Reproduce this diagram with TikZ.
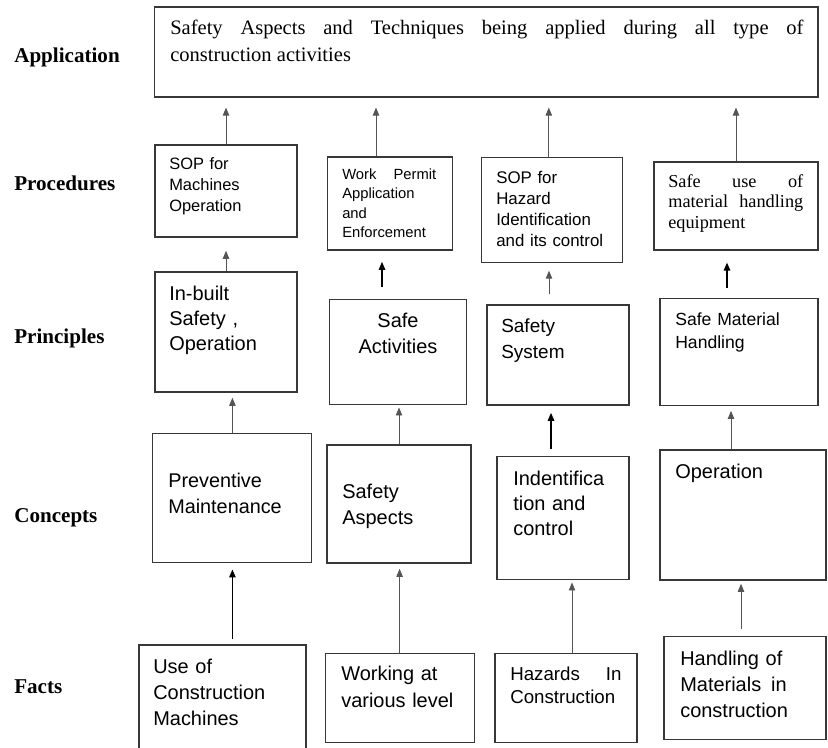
\documentclass[tikz,border=0pt]{standalone}
\usepackage{fontspec}
\setmainfont{Liberation Serif}
\setsansfont{Liberation Sans}
\usetikzlibrary{arrows.meta}
\hyphenpenalty=10000
\exhyphenpenalty=10000
\definecolor{BoxGray}{RGB}{55, 55, 55}
\definecolor{ArrowGray}{RGB}{85, 85, 85}

\begin{document}
\begin{tikzpicture}[
    cell/.style={draw=BoxGray, line width=0.8pt, inner sep=0pt},
    txt/.style={anchor=base west, inner sep=0pt, align=left, text width=3.1cm, font=\sffamily\fontsize{14.2}{18.5}\selectfont},
    lvl/.style={anchor=base west, inner sep=0pt, font=\fontsize{15}{18}\selectfont\bfseries},
    arr/.style={draw=ArrowGray, line width=0.6pt, -{Triangle[length=2mm,width=1.6mm]}},
    arrbold/.style={arr, draw=black, line width=1.1pt}
]
    \useasboundingbox (0,0) rectangle (20.7,-18.675);

    % Niveles
    \node[lvl] (lvlApp) at (0.35,-1.55) {Application};
    \node[lvl] (lvlProc) at (0.35,-4.75) {Procedures};
    \node[lvl] (lvlPrinc) at (0.35,-8.575) {Principles};
    \node[lvl] (lvlConc) at (0.35,-13.05) {Concepts};
    \node[lvl] (lvlFact) at (0.35,-17.325) {Facts};

    % Aplicacion
    \node[cell, minimum width=16.58cm, minimum height=2.25cm] (app) at (12.16,-1.30) {};
    \node[txt, font=\fontsize{14.6}{19.2}\selectfont, text width=15.83cm, align=justify] (appT) at (4.25,-0.875) {Safety Aspects and Techniques being applied during all type of\linebreak construction activities};

    % Procedimientos
    \node[cell, minimum width=3.55cm, minimum height=2.30cm] (proc1) at (5.65,-4.775) {};
    \node[txt, font=\sffamily\fontsize{11.7}{15}\selectfont] (procT1) at (4.225,-4.225) {SOP for\\Machines\\Operation};
    \node[cell, minimum width=3.125cm, minimum height=2.325cm] (proc2) at (9.74,-5.0875) {};
    \node[txt, font=\sffamily\fontsize{10.5}{13.9}\selectfont, text width=2.35cm, align=justify] (procT2) at (8.55,-4.475) {Work Permit\linebreak Application\\and\\Enforcement};
    \node[cell, minimum width=3.525cm, minimum height=2.625cm] (proc3) at (13.81,-5.26) {};
    \node[txt, font=\sffamily\fontsize{12}{15}\selectfont] (procT3) at (12.40,-4.575) {SOP for\\Hazard\\Identification\\and its control};
    \node[cell, minimum width=4.10cm, minimum height=2.20cm] (proc4) at (18.40,-5.15) {};
    \node[txt, font=\fontsize{13}{14.6}\selectfont, text width=3.375cm, align=justify] (procT4) at (16.70,-4.675) {Safe use of\linebreak material handling\linebreak equipment};

    % Principios
    \node[cell, minimum width=3.55cm, minimum height=3.00cm] (princ1) at (5.65,-8.30) {};
    \node[txt, font=\sffamily\fontsize{14.2}{17.8}\selectfont] (princT1) at (4.225,-7.50) {In-built\\Safety ,\\Operation};
    \node[cell, minimum width=3.425cm, minimum height=2.625cm] (princ2) at (9.94,-8.81) {};
    \node[txt, anchor=base, align=center, font=\sffamily\fontsize{14.2}{19.2}\selectfont] (princT2) at (9.95,-8.175) {Safe\\Activities};
    \node[cell, minimum width=3.55cm, minimum height=2.50cm] (princ3) at (13.95,-8.875) {};
    \node[txt, font=\sffamily\fontsize{13.5}{19.2}\selectfont] (princT3) at (12.525,-8.30) {Safety\\System};
    \node[cell, minimum width=3.95cm, minimum height=2.675cm] (princ4) at (18.475,-8.79) {};
    \node[txt, font=\sffamily\fontsize{12.5}{17}\selectfont] (princT4) at (16.875,-8.125) {Safe Material\\Handling};

    % Conceptos
    \node[cell, minimum width=3.975cm, minimum height=3.225cm] (conc1) at (5.81,-12.46) {};
    \node[txt, font=\sffamily\fontsize{14.1}{19.2}\selectfont] (concT1) at (4.20,-12.175) {Preventive\\Maintenance};
    \node[cell, minimum width=3.60cm, minimum height=2.95cm] (conc2) at (9.975,-12.60) {};
    \node[txt] (concT2) at (8.55,-12.45) {Safety\\Aspects};
    \node[cell, minimum width=3.30cm, minimum height=3.075cm] (conc3) at (14.075,-12.96) {};
    \node[txt, font=\sffamily\fontsize{14.2}{18.1}\selectfont] (concT3) at (12.825,-12.125) {Indentifica\\tion and\\control};
    \node[cell, minimum width=4.15cm, minimum height=3.25cm] (conc4) at (18.575,-12.875) {};
    \node[txt] (concT4) at (16.875,-11.95) {Operation};

    % Hechos
    \node[cell, minimum width=4.175cm, minimum height=2.675cm] (fact1) at (5.5625,-17.4625) {};
    \node[txt] (factT1) at (3.825,-16.825) {Use of\\Construction\\Machines};
    \node[cell, minimum width=3.725cm, minimum height=2.225cm] (fact2) at (9.99,-17.44) {};
    \node[txt, font=\sffamily\fontsize{14.2}{19.2}\selectfont] (factT2) at (8.525,-17.00) {Working at\\various level};
    \node[cell, minimum width=3.55cm, minimum height=2.225cm] (fact3) at (14.15,-17.44) {};
    \node[txt, font=\sffamily\fontsize{13.3}{16.4}\selectfont, text width=2.78cm, align=justify] (factT3) at (12.75,-17.00) {Hazards In\linebreak Construction};
    \node[cell, minimum width=4.05cm, minimum height=2.575cm] (fact4) at (18.625,-17.21) {};
    \node[txt] (factT4) at (17.00,-16.625) {Handling of\\Materials\enskip in\\construction};

    % Procedimientos -> aplicacion
    \draw[arr, shorten >=0.25cm] (proc1.north) -- (proc1.north |- app.south);
    \draw[arr, shorten >=0.25cm] ([xshift=-0.34cm]proc2.north) -- ([xshift=-0.34cm]proc2.north |- app.south);
    \draw[arr, shorten >=0.25cm] ([xshift=-0.09cm]proc3.north) -- ([xshift=-0.09cm]proc3.north |- app.south);
    \draw[arr, shorten >=0.25cm] (proc4.north) -- (proc4.north |- app.south);

    % Principios -> procedimientos
    \draw[arr, shorten >=0.33cm] (princ1.north) -- (princ1.north |- proc1.south);
    \draw[arrbold, line width=0.8pt, shorten <=0.3cm, shorten >=0.28cm] ([xshift=-0.39cm]princ2.north) -- ([xshift=-0.39cm]princ2.north |- proc2.south);
    \draw[arr, shorten <=0.25cm, shorten >=0.18cm] ([xshift=-0.225cm]princ3.north) -- ([xshift=-0.225cm]princ3.north |- proc3.south);
    \draw[arrbold, shorten <=0.25cm, shorten >=0.3cm] ([xshift=-0.3cm]princ4.north) -- ([xshift=-0.3cm]princ4.north |- proc4.south);

    % Conceptos -> principios
    \draw[arr, shorten >=0.13cm] (conc1.north) -- (conc1.north |- princ1.south);
    \draw[arr, shorten >=0.05cm] (conc2.north) -- (conc2.north |- princ2.south);
    \draw[arrbold, shorten <=0.18cm, shorten >=0.18cm] ([xshift=-0.3cm]conc3.north) -- ([xshift=-0.3cm]conc3.north |- princ3.south);
    \draw[arr, shorten >=0.13cm] ([xshift=-0.3cm]conc4.north) -- ([xshift=-0.3cm]conc4.north |- princ4.south);

    % Hechos -> conceptos
    \draw[arrbold, shorten <=0.13cm, shorten >=0.15cm] (conc1.south |- fact1.north) -- (conc1.south);
    \draw[arr, shorten >=0.13cm] (fact2.north) -- (fact2.north |- conc2.south);
    \draw[arr, shorten >=0.05cm] ([xshift=0.15cm]fact3.north) -- ([xshift=0.15cm]fact3.north |- conc3.south);
    \draw[arr, shorten <=0.18cm, shorten >=0.08cm] ([xshift=-0.1cm]fact4.north) -- ([xshift=-0.1cm]fact4.north |- conc4.south);
\end{tikzpicture}
\end{document}
